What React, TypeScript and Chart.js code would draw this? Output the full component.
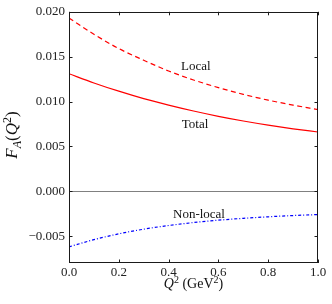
import React, { useEffect, useRef } from "react";
import { Chart, registerables } from "chart.js";

Chart.register(...registerables);

// ---- data ----
const q2Values = [0, 0.1, 0.2, 0.3, 0.4, 0.5, 0.6, 0.7, 0.8, 0.9, 1.0];
const localValues = [0.0193, 0.0175, 0.0159, 0.0146, 0.0134, 0.0124, 0.01155, 0.0108, 0.01015, 0.0096, 0.0091];
const totalValues = [0.0131, 0.01207, 0.01115, 0.01032, 0.0096, 0.00894, 0.00835, 0.00783, 0.00737, 0.00696, 0.0066];
const nonLocalValues = [-0.0062, -0.0054, -0.00475, -0.00423, -0.00382, -0.00349, -0.00323, -0.00302, -0.00285, -0.00271, -0.0026];

const xTickValues = [0, 0.2, 0.4, 0.6, 0.8, 1.0];
const yTickValues = [-0.005, 0, 0.005, 0.01, 0.015, 0.02];

const labelTexts = ["Local", "Total", "Non-local"];
const labelQ = [0.509, 0.506, 0.522];
const labelF = [0.0139, 0.0074, -0.0026];

const FONT = '"Liberation Serif", "DejaVu Serif", serif';

type Part = { t: string; it?: boolean; sup?: boolean; sub?: boolean };

function drawRich(ctx: CanvasRenderingContext2D, parts: Part[], cx: number, baseY: number, size: number) {
  const small = Math.round(size * 0.7);
  const fontFor = (p: Part) => `${p.it ? "italic " : ""}${p.sup || p.sub ? small : size}px ${FONT}`;
  let total = 0;
  for (const p of parts) {
    ctx.font = fontFor(p);
    total += ctx.measureText(p.t).width;
  }
  let x = cx - total / 2;
  ctx.textAlign = "left";
  ctx.textBaseline = "alphabetic";
  for (const p of parts) {
    ctx.font = fontFor(p);
    const dy = p.sup ? -size * 0.38 : p.sub ? size * 0.22 : 0;
    ctx.fillText(p.t, x, baseY + dy);
    x += ctx.measureText(p.t).width;
  }
}

const decorPlugin = {
  id: "decor",
  afterDatasetsDraw(chart: any) {
    const ctx: CanvasRenderingContext2D = chart.ctx;
    const { left, right, top, bottom } = chart.chartArea;
    const xs = chart.scales.x;
    const ys = chart.scales.y;
    ctx.save();
    // frame
    ctx.strokeStyle = "#1a1a1a";
    ctx.lineWidth = 1;
    ctx.strokeRect(Math.round(left) + 0.5, Math.round(top) + 0.5, Math.round(right - left) - 1, Math.round(bottom - top) - 1);
    // inward ticks
    const tl = 3.5;
    ctx.beginPath();
    for (const v of xTickValues) {
      const px = Math.round(xs.getPixelForValue(v)) + 0.5;
      ctx.moveTo(px, bottom);
      ctx.lineTo(px, bottom - tl);
      ctx.moveTo(px, top);
      ctx.lineTo(px, top + tl);
    }
    for (const v of yTickValues) {
      const py = Math.round(ys.getPixelForValue(v)) + 0.5;
      ctx.moveTo(left, py);
      ctx.lineTo(left + tl, py);
      ctx.moveTo(right, py);
      ctx.lineTo(right - tl, py);
    }
    ctx.stroke();
    // annotations
    ctx.fillStyle = "#111";
    ctx.font = `13px ${FONT}`;
    ctx.textAlign = "center";
    ctx.textBaseline = "middle";
    labelTexts.forEach((t, i) => {
      ctx.fillText(t, xs.getPixelForValue(labelQ[i]), ys.getPixelForValue(labelF[i]));
    });
    // x title
    ctx.fillStyle = "#111";
    drawRich(
      ctx,
      [{ t: "Q", it: true }, { t: "2", sup: true }, { t: " (GeV" }, { t: "2", sup: true }, { t: ")" }],
      (left + right) / 2,
      288,
      14
    );
    // y title
    ctx.translate(17, 135);
    ctx.rotate(-Math.PI / 2);
    drawRich(
      ctx,
      [{ t: "F", it: true }, { t: "A", it: true, sub: true }, { t: "(" }, { t: "Q", it: true }, { t: "2", sup: true }, { t: ")" }],
      0,
      0,
      17
    );
    ctx.restore();
  },
};

function fmtY(v: number) {
  const s = Math.abs(v).toFixed(3);
  return v < -1e-9 ? "\u2212" + s : s;
}

export default function App() {
  const ref = useRef<HTMLCanvasElement | null>(null);
  useEffect(() => {
    document.body.style.margin = "0";
    const canvas = ref.current;
    if (!canvas) return;
    const pts = (arr: number[]) => q2Values.map((x, i) => ({ x, y: arr[i] }));
    const chart = new Chart(canvas, {
      type: "line",
      data: {
        datasets: [
          {
            label: "Local",
            data: pts(localValues),
            borderColor: "#ff0000",
            borderWidth: 1.2,
            borderDash: [5, 3.5],
            pointRadius: 0,
            fill: false,
            cubicInterpolationMode: "monotone",
          },
          {
            label: "Total",
            data: pts(totalValues),
            borderColor: "#ff0000",
            borderWidth: 1.2,
            pointRadius: 0,
            fill: false,
            cubicInterpolationMode: "monotone",
          },
          {
            label: "Non-local",
            data: pts(nonLocalValues),
            borderColor: "#0000ff",
            borderWidth: 1.2,
            borderDash: [3, 2, 1, 2],
            pointRadius: 0,
            fill: false,
            cubicInterpolationMode: "monotone",
          },
        ],
      },
      options: {
        responsive: false,
        animation: false,
        events: [],
        layout: { padding: { top: 11, right: 14, left: 0, bottom: 0 } },
        plugins: { legend: { display: false }, tooltip: { enabled: false } },
        scales: {
          x: {
            type: "linear",
            min: 0,
            max: 1,
            afterBuildTicks: (s: any) => {
              s.ticks = xTickValues.map((value) => ({ value }));
            },
            afterFit: (s: any) => {
              s.height = 41;
            },
            ticks: {
              padding: 2,
              color: "#222",
              font: { family: FONT, size: 13 },
              maxRotation: 0,
              callback: (v: any) => Number(v).toFixed(1),
            },
            grid: { display: false, drawTicks: false },
            border: { display: false },
          },
          y: {
            type: "linear",
            min: -0.008,
            max: 0.02,
            afterBuildTicks: (s: any) => {
              s.ticks = yTickValues.map((value) => ({ value }));
            },
            afterFit: (s: any) => {
              s.width = 69;
            },
            ticks: {
              padding: 4,
              color: "#222",
              font: { family: FONT, size: 13 },
              callback: (v: any) => fmtY(Number(v)),
            },
            grid: {
              drawTicks: false,
              color: (c: any) => (c.tick && Math.abs(c.tick.value) < 1e-9 ? "#808080" : "rgba(0,0,0,0)"),
              lineWidth: 1,
            },
            border: { display: false },
          },
        },
      },
      plugins: [decorPlugin],
    } as any);
    return () => chart.destroy();
  }, []);
  return <canvas ref={ref} width={332} height={304} style={{ display: "block" }} />;
}
